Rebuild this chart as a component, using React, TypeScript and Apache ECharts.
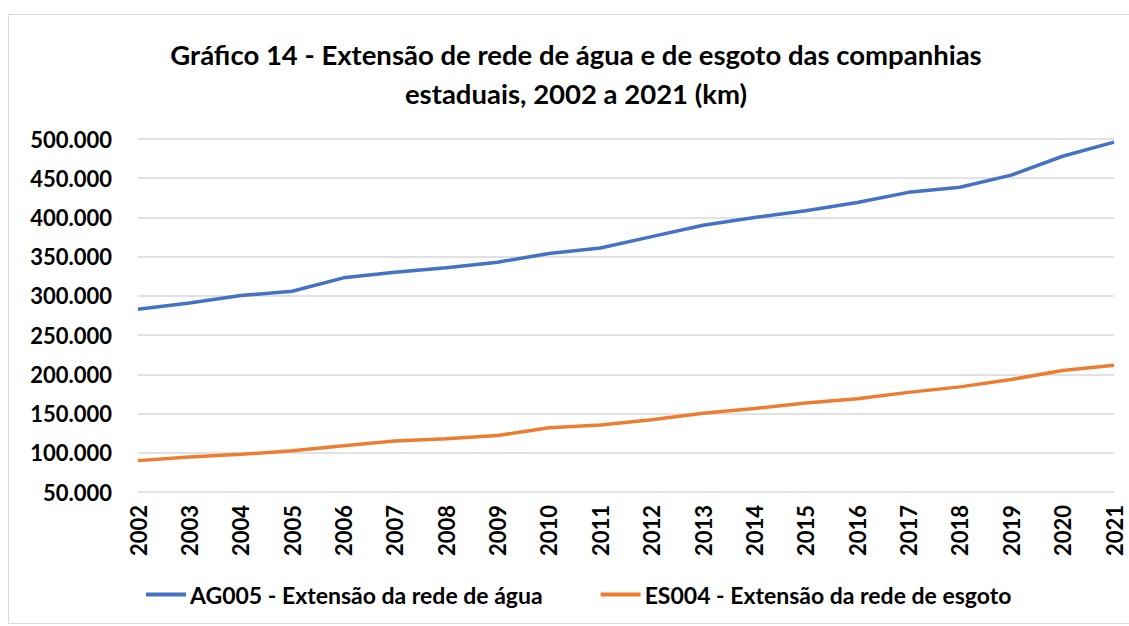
import React, { useEffect, useRef } from 'react';
import * as echarts from 'echarts';

const years = ['2002','2003','2004','2005','2006','2007','2008','2009','2010','2011','2012','2013','2014','2015','2016','2017','2018','2019','2020','2021'];
const aguaKm = [283000, 291000, 300500, 306000, 323000, 330000, 336000, 343000, 354000, 361000, 375500, 390000, 400000, 408500, 419000, 432000, 438500, 454000, 478000, 496000];
const esgotoKm = [90000, 94500, 98000, 102500, 109000, 115000, 118000, 122000, 132000, 135500, 142000, 150500, 156500, 163500, 169000, 177000, 184000, 193500, 205000, 211500];
const seriesNames = ['AG005 - Extensão da rede de água', 'ES004 - Extensão da rede de esgoto'];
const titleLines = ['Gráfico 14 - Extensão de rede de água e de esgoto das companhias', 'estaduais, 2002 a 2021 (km)'];
const yMin = 50000;
const yMax = 500000;
const yStep = 50000;

const FONT = 'Lato, "Open Sans", sans-serif';

function fmt(v: number): string {
  const s = Math.round(v).toString();
  return s.replace(/\B(?=(\d{3})+(?!\d))/g, '.');
}

export default function App() {
  const ref = useRef<HTMLDivElement>(null);
  useEffect(() => {
    if (!ref.current) return;
    const chart = echarts.init(ref.current, undefined, { renderer: 'svg' });
    chart.setOption({
      animation: false,
      backgroundColor: '#ffffff',
      textStyle: { fontFamily: FONT },
      graphic: [
        { type: 'rect', shape: { x: 8.5, y: 14.5, width: 1140, height: 609 }, style: { fill: 'none', stroke: '#d9d9d9', lineWidth: 1 }, silent: true },
        { type: 'text', x: 576, y: 54, style: { text: titleLines[0], fontFamily: FONT, fontWeight: 'bold', fontSize: 27.5, fill: '#000', textAlign: 'center', textVerticalAlign: 'middle' } },
        { type: 'text', x: 576, y: 93, style: { text: titleLines[1], fontFamily: FONT, fontWeight: 'bold', fontSize: 27.5, fill: '#000', textAlign: 'center', textVerticalAlign: 'middle' } },
      ],
      legend: {
        bottom: 15,
        left: 141,
        itemGap: 58,
        itemWidth: 40,
        itemHeight: 4,
        icon: 'rect',
        textStyle: { fontFamily: FONT, fontWeight: 'bold', fontSize: 23, color: '#000', padding: [0, 0, 0, -1] },
        data: seriesNames,
      },
      grid: { left: 138, right: 15, top: 139, bottom: 134, containLabel: false },
      xAxis: {
        type: 'category',
        data: years,
        boundaryGap: false,
        axisLine: { show: false },
        axisTick: { show: false },
        axisLabel: { rotate: 90, margin: 13, fontFamily: FONT, fontWeight: 'bold', fontSize: 22, color: '#000' },
        splitLine: { show: false },
      },
      yAxis: {
        type: 'value',
        min: yMin,
        max: yMax,
        interval: yStep,
        axisLine: { show: false },
        axisTick: { show: false },
        axisLabel: { margin: 26, fontFamily: FONT, fontWeight: 'bold', fontSize: 22, color: '#000', formatter: (v: number) => fmt(v) },
        splitLine: { lineStyle: { color: '#d9d9d9', width: 1.5 } },
      },
      series: [
        { name: seriesNames[0], type: 'line', data: aguaKm, symbol: 'none', lineStyle: { color: '#4472c4', width: 3.5 }, itemStyle: { color: '#4472c4' } },
        { name: seriesNames[1], type: 'line', data: esgotoKm, symbol: 'none', lineStyle: { color: '#ed7d31', width: 3.5 }, itemStyle: { color: '#ed7d31' } },
      ],
    });
    return () => chart.dispose();
  }, []);
  return <div ref={ref} style={{ position: 'absolute', left: 0, top: 0, width: 1129, height: 626 }} />;
}
